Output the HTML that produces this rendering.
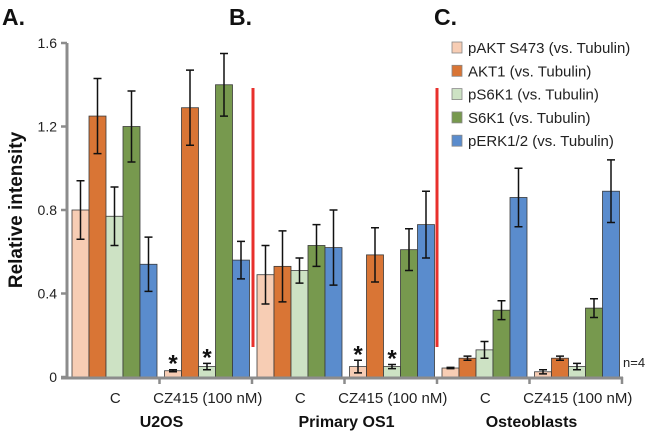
<!DOCTYPE html>
<html><head><meta charset="utf-8"><style>
body{margin:0;background:#fff;}
svg{display:block;font-family:"Liberation Sans",Arial,sans-serif;}
</style></head><body>
<svg id="chart" width="650" height="436" viewBox="0 0 650 436"></svg>
<script>
const seriesNames=["pAKT S473 (vs. Tubulin)","AKT1 (vs. Tubulin)","pS6K1 (vs. Tubulin)","S6K1 (vs. Tubulin)","pERK1/2 (vs. Tubulin)"];
const conditions=["C","CZ415 (100 nM)","C","CZ415 (100 nM)","C","CZ415 (100 nM)"];
const cellLines=["U2OS","Primary OS1","Osteoblasts"];
const pAKT=[0.80,0.03,0.49,0.05,0.043,0.025];
const pAKTErr=[0.14,0.005,0.14,0.03,0.003,0.01];
const AKT1=[1.25,1.29,0.53,0.585,0.09,0.09];
const AKT1Err=[0.18,0.18,0.17,0.13,0.01,0.01];
const pS6K1=[0.77,0.05,0.51,0.05,0.13,0.05];
const pS6K1Err=[0.14,0.015,0.06,0.01,0.04,0.015];
const S6K1=[1.20,1.40,0.63,0.61,0.32,0.33];
const S6K1Err=[0.17,0.15,0.10,0.10,0.045,0.045];
const pERK=[0.54,0.56,0.62,0.73,0.86,0.89];
const pERKErr=[0.13,0.09,0.18,0.16,0.14,0.15];
const stars=[[0,1],[2,1],[0,3],[2,3]];
const yTicks=[0,0.4,0.8,1.2,1.6];
const yTickLabels=["0","0.4","0.8","1.2","1.6"];

const series=[pAKT,AKT1,pS6K1,S6K1,pERK];
const errs=[pAKTErr,AKT1Err,pS6K1Err,S6K1Err,pERKErr];
const colors=["#f7cdb4","#d97535","#cde2c4","#77994e","#5a8ccd"];
const svg=document.getElementById('chart');
const NS="http://www.w3.org/2000/svg";
function mk(t,a,p){const e=document.createElementNS(NS,t);for(const k in a)e.setAttribute(k,a[k]);(p||svg).appendChild(e);return e;}
const y0=377,yTop=43,x0=67,xEnd=622;
const yS=v=>y0-(v/1.6)*(y0-yTop);
const gW=(xEnd-x0)/conditions.length;
const bw=17;
const barX=(g,s)=>x0+g*gW+5+s*bw;

yTicks.forEach((v,i)=>{
  const t=mk('text',{x:57,y:yS(v)+5,'text-anchor':'end','font-size':14,fill:'#222'});
  t.textContent=yTickLabels[i];
  
  
  const l=mk('line',{x1:x0-6,x2:x0,y1:yS(v),y2:yS(v),stroke:'#8c8c8c','stroke-width':2.5});
  
  
});
conditions.forEach((c,g)=>{
  series.forEach((arr,s)=>{
    const x=barX(g,s),v=arr[g];
    const r=mk('rect',{x:x,y:yS(v),width:bw,height:y0-yS(v),fill:colors[s],stroke:'#3a3a3a','stroke-width':0.8});
    
    
    const e=errs[s][g],cx=x+bw/2;
    const eb=mk('path',{d:`M${cx},${yS(v+e)}V${yS(Math.max(0,v-e))}M${cx-4},${yS(v+e)}h8M${cx-4},${yS(Math.max(0,v-e))}h8`,stroke:'#111','stroke-width':1.5,fill:'none'});
    
    
  });
  const t=mk('text',{x:x0+g*gW+gW/2+2,y:403,'text-anchor':'middle','font-size':15,fill:'#222'});
  t.textContent=c;
  
  
});
stars.forEach(([s,g])=>{
  const v=series[s][g]+errs[s][g];
  const t=mk('text',{x:barX(g,s)+bw/2,y:yS(v)+2,'text-anchor':'middle','font-size':24,'font-weight':'bold',fill:'#111'});
  t.textContent='*';
  
  
});
const ya=mk('line',{x1:x0,x2:x0,y1:yTop,y2:y0+2,stroke:'#8c8c8c','stroke-width':3});


const xa=mk('line',{x1:x0-6,x2:xEnd+1,y1:y0+1,y2:y0+1,stroke:'#8c8c8c','stroke-width':3});


for(let i=1;i<=conditions.length;i++){
  const l=mk('line',{x1:x0+i*gW,x2:x0+i*gW,y1:y0,y2:y0+7,stroke:'#8c8c8c','stroke-width':2.5});
  
  
}
cellLines.forEach((n,i)=>{
  const t=mk('text',{x:x0+(2*i+1)*gW+2,y:427,'text-anchor':'middle','font-size':16,'font-weight':'bold',fill:'#111'});
  t.textContent=n;
  
  
});
[x0+2*gW+1,x0+4*gW].forEach(x=>{
  const l=mk('line',{x1:x,x2:x,y1:88,y2:347,stroke:'#e8302c','stroke-width':3});
  
  
});
seriesNames.forEach((n,i)=>{
  const y=48+i*23.3;
  const r=mk('rect',{x:452,y:y-6,width:10,height:11,fill:colors[i],stroke:'#888','stroke-width':0.8});
  
  
  const t=mk('text',{x:468,y:y+5,'font-size':15,fill:'#222'});
  t.textContent=n;
  
  
});
</script>
<svg style="position:absolute;left:0;top:0" width="650" height="436">
<text x="2" y="25" font-family="Liberation Sans,Arial,sans-serif" font-size="23" font-weight="bold" fill="#111">A.</text>
<text x="229" y="25" font-family="Liberation Sans,Arial,sans-serif" font-size="23" font-weight="bold" fill="#111">B.</text>
<text x="434" y="25" font-family="Liberation Sans,Arial,sans-serif" font-size="23" font-weight="bold" fill="#111">C.</text>
<text transform="translate(22,210) rotate(-90)" text-anchor="middle" font-family="Liberation Sans,Arial,sans-serif" font-size="19" font-weight="bold" fill="#111">Relative intensity</text>
<text x="623" y="367" font-family="Liberation Sans,Arial,sans-serif" font-size="13" fill="#222">n=4</text>
</svg>
</body></html>
